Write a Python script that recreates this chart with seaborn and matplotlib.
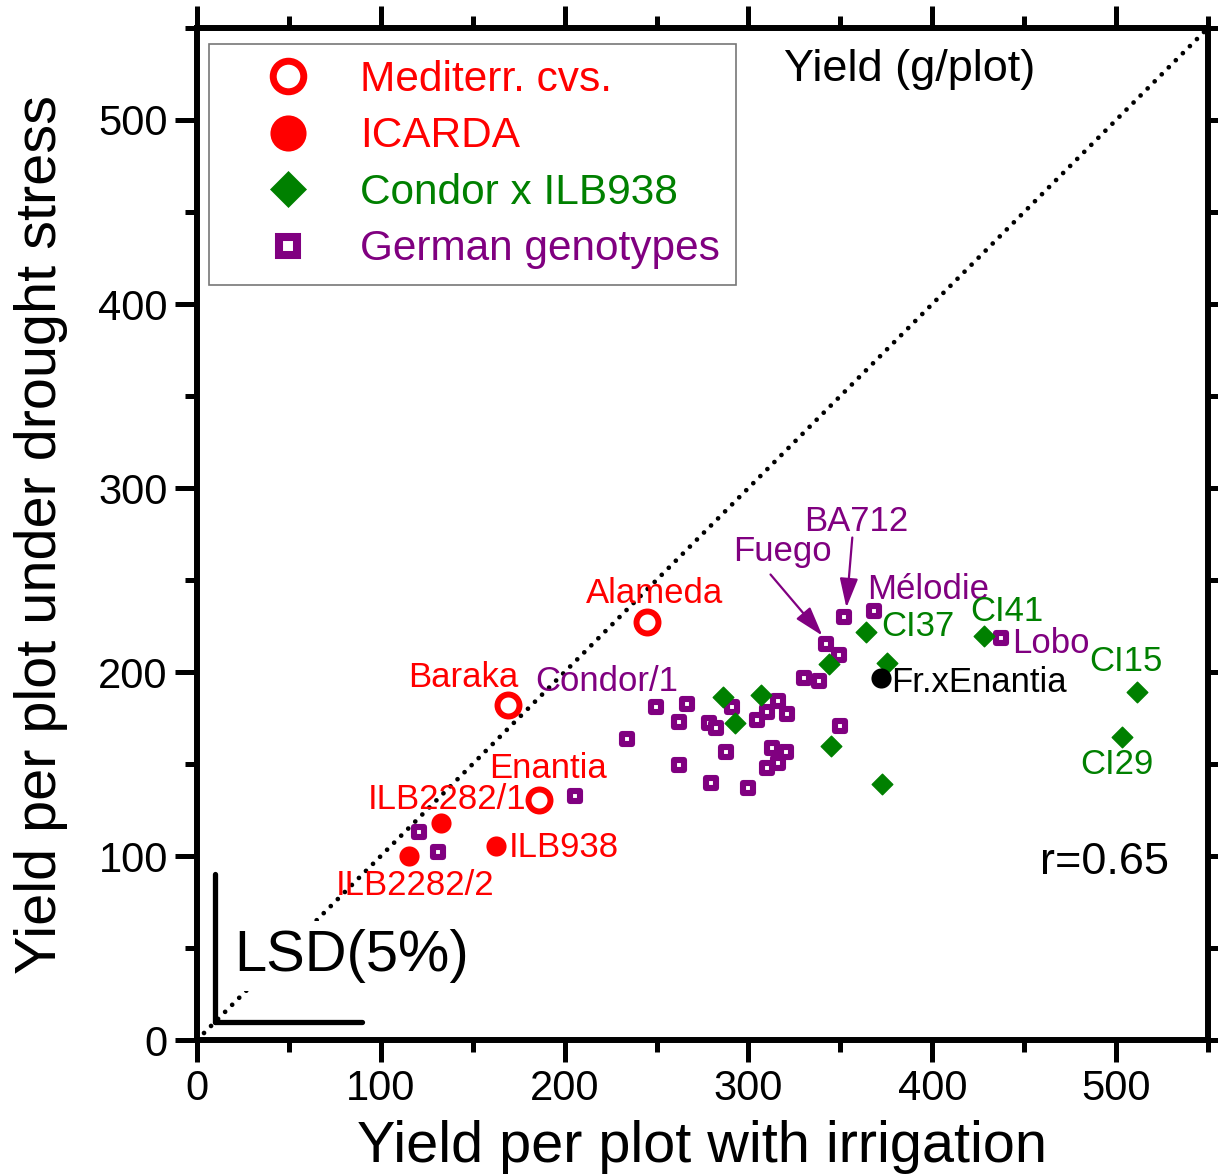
import matplotlib
matplotlib.use("Agg")
import matplotlib.pyplot as plt
from matplotlib.lines import Line2D
from matplotlib.ticker import MultipleLocator
import seaborn as sns
import pandas as pd

# ---------------- data ----------------
med_names = ["Alameda", "Baraka", "Enantia"]
med_x = [244.6, 169.0, 185.9]
med_y = [227.4, 182.3, 130.6]

icarda_names = ["ILB2282/1", "ILB2282/2", "ILB938"]
icarda_x = [132.6, 115.2, 162.5]
icarda_y = [118.1, 100.1, 105.5]

cross_names = ["CI37", "CI41", "CI15", "CI29", "", "", "", "", "", "", ""]
cross_x = [364.1, 428.3, 511.4, 503.3, 375.3, 372.8, 344.0, 286.4, 307.1, 292.9, 345.1]
cross_y = [222.0, 219.8, 189.3, 164.9, 205.1, 139.3, 204.6, 186.6, 187.7, 172.5, 160.0]

german_x = [352.2, 368.5, 342.4, 349.5, 330.4, 338.6, 249.5, 266.8, 262.0, 278.8,
            282.1, 291.3, 304.9, 310.3, 316.3, 321.2, 350.0, 233.7, 288.0, 313.0,
            320.7, 316.3, 310.3, 262.0, 279.9, 299.5, 205.4, 437.5, 120.7, 131.0]
german_y = [230.1, 233.4, 215.4, 209.5, 197.0, 195.3, 181.2, 182.8, 173.0, 172.5,
            169.7, 181.2, 174.1, 178.5, 184.4, 177.4, 170.8, 163.8, 156.7, 158.9,
            156.7, 150.7, 148.0, 149.6, 139.8, 137.1, 132.8, 218.7, 113.2, 102.3]

frx_x = [372.3]
frx_y = [197.0]

legend_labels = ["Mediterr. cvs.", "ICARDA", "Condor x ILB938", "German genotypes"]

lsd_value = 80
r_text = "r=0.65"

RED = "#FF0000"
GREEN = "#008000"
PURPLE = "#800080"

# ---------------- style ----------------
sns.set_style("ticks")
plt.rcParams["font.family"] = ["Liberation Sans", "DejaVu Sans"]
plt.rcParams["text.color"] = "black"
plt.rcParams["axes.labelcolor"] = "black"
plt.rcParams["xtick.color"] = "black"
plt.rcParams["ytick.color"] = "black"

DPI = 100
fig = plt.figure(figsize=(12.18, 11.76), dpi=DPI)
ax = fig.add_axes([0.1617, 0.1156, 0.8301, 0.8606])

# diagonal 1:1 line
ax.plot([0, 550], [0, 550], color="black", lw=3.4,
        linestyle=(0, (0.01, 2.1)), dash_capstyle="round", zorder=1)

df_med = pd.DataFrame({"x": med_x, "y": med_y})
df_ic = pd.DataFrame({"x": icarda_x, "y": icarda_y})
df_cr = pd.DataFrame({"x": cross_x, "y": cross_y})
df_ge = pd.DataFrame({"x": german_x, "y": german_y})
df_fr = pd.DataFrame({"x": frx_x, "y": frx_y})

sns.scatterplot(data=df_ge, x="x", y="y", ax=ax, marker="s", s=60,
                facecolor="white", edgecolor=PURPLE, linewidth=4.4,
                joinstyle="round", zorder=3, legend=False)
sns.scatterplot(data=df_cr, x="x", y="y", ax=ax, marker="D", s=110,
                color=GREEN, edgecolor=GREEN, linewidth=1.0,
                joinstyle="round", zorder=4, legend=False)
sns.scatterplot(data=df_med, x="x", y="y", ax=ax, marker="o", s=250,
                facecolor="white", edgecolor=RED, linewidth=4.3,
                zorder=5, legend=False)
sns.scatterplot(data=df_ic, x="x", y="y", ax=ax, marker="o", s=210,
                color=RED, edgecolor=RED, linewidth=0, zorder=5, legend=False)
sns.scatterplot(data=df_fr, x="x", y="y", ax=ax, marker="o", s=210,
                color="black", edgecolor="black", linewidth=0, zorder=5, legend=False)

# ---------------- labels ----------------
FS = 25
lab = dict(fontsize=FS, zorder=6)
ax.text(248.9, 242.7, "Alameda", color=RED, ha="center", va="center", **lab)
ax.text(145.1, 196.9, "Baraka", color=RED, ha="center", va="center", **lab)
ax.text(190.8, 147.4, "Enantia", color=RED, ha="center", va="center", **lab)
ax.text(135.9, 130.6, "ILB2282/1", color=RED, ha="center", va="center", **lab)
ax.text(169.5, 104.5, "ILB938", color=RED, ha="left", va="center", **lab)
ax.text(118.5, 83.8, "ILB2282/2", color=RED, ha="center", va="center", **lab)
ax.text(222.8, 194.8, "Condor/1", color=PURPLE, ha="center", va="center", **lab)
ax.text(358.7, 281.8, "BA712", color=PURPLE, ha="center", va="center", **lab)
ax.text(318.5, 265.5, "Fuego", color=PURPLE, ha="center", va="center", **lab)
ax.text(397.8, 244.8, "Mélodie", color=PURPLE, ha="center", va="center", **lab)
ax.text(392.4, 224.7, "CI37", color=GREEN, ha="center", va="center", **lab)
ax.text(440.8, 232.9, "CI41", color=GREEN, ha="center", va="center", **lab)
ax.text(464.7, 215.5, "Lobo", color=PURPLE, ha="center", va="center", **lab)
ax.text(505.4, 205.7, "CI15", color=GREEN, ha="center", va="center", **lab)
ax.text(500.5, 149.6, "CI29", color=GREEN, ha="center", va="center", **lab)
ax.text(377.5, 194.2, "Fr.xEnantia", color="black", ha="left", va="center", **lab)

arrow_kw = dict(arrowstyle="-|>,head_length=0.9,head_width=0.28", color=PURPLE,
                lw=1.6, shrinkA=0, shrinkB=0, mutation_scale=20)
ax.annotate("", xy=(340.2, 219.8), xytext=(312.0, 253.0), arrowprops=arrow_kw, zorder=6)
ax.annotate("", xy=(353.3, 235.0), xytext=(356.5, 273.1), arrowprops=arrow_kw, zorder=6)

ax.text(387.5, 527.7, "Yield (g/plot)", fontsize=32.5, ha="center", va="center")
ax.text(493.5, 96.3, r_text, fontsize=32.5, ha="center", va="center")

# LSD bars
lsd0 = 10
ax.plot([lsd0, lsd0], [lsd0, lsd0 + lsd_value], color="black", lw=3.8,
        solid_capstyle="round", zorder=2)
ax.plot([lsd0, lsd0 + lsd_value], [lsd0, lsd0], color="black", lw=3.8,
        solid_capstyle="round", zorder=2)
ax.text(84.2, 45.5, "LSD(5%)", fontsize=41.7, ha="center", va="center", zorder=2,
        bbox=dict(facecolor="white", edgecolor="none", pad=6))

# ---------------- axes ----------------
ax.set_xlim(0, 550)
ax.set_ylim(0, 550)
ax.xaxis.set_major_locator(MultipleLocator(100))
ax.yaxis.set_major_locator(MultipleLocator(100))
ax.xaxis.set_minor_locator(MultipleLocator(50))
ax.yaxis.set_minor_locator(MultipleLocator(50))
for sp in ax.spines.values():
    sp.set_visible(True)
    sp.set_linewidth(4.3)
    sp.set_color("black")
ax.tick_params(which="both", direction="out", top=True, right=True,
               labeltop=False, labelright=False, color="black")
ax.tick_params(which="major", length=16, width=3.6, labelsize=30, pad=5)
ax.tick_params(which="minor", length=8.5, width=3.6)

ax.set_xlabel("Yield per plot with irrigation", fontsize=41.5, labelpad=8)
ax.set_ylabel("Yield per plot under drought stress", fontsize=41.5, labelpad=22)

# ---------------- legend ----------------
handles = [
    Line2D([], [], linestyle="none", marker="o", ms=22, mfc="white", mec=RED, mew=5),
    Line2D([], [], linestyle="none", marker="o", ms=26, mfc=RED, mec=RED, mew=0),
    Line2D([], [], linestyle="none", marker="D", ms=18, mfc=GREEN, mec=GREEN, mew=0.5),
    Line2D([], [], linestyle="none", marker="s", ms=13.6, mfc="white", mec=PURPLE, mew=5.8),
]
leg = ax.legend(handles, legend_labels, loc="upper left",
                bbox_to_anchor=(0.012, 0.984), borderaxespad=0, fontsize=30.5,
                labelcolor=[RED, RED, GREEN, PURPLE], frameon=True, fancybox=False,
                edgecolor="#555555", handletextpad=0.2, labelspacing=0.39,
                borderpad=0.37, handlelength=3.0, markerscale=1.0)
leg.get_frame().set_linewidth(1.2)

fig.savefig("out.png", dpi=DPI)
